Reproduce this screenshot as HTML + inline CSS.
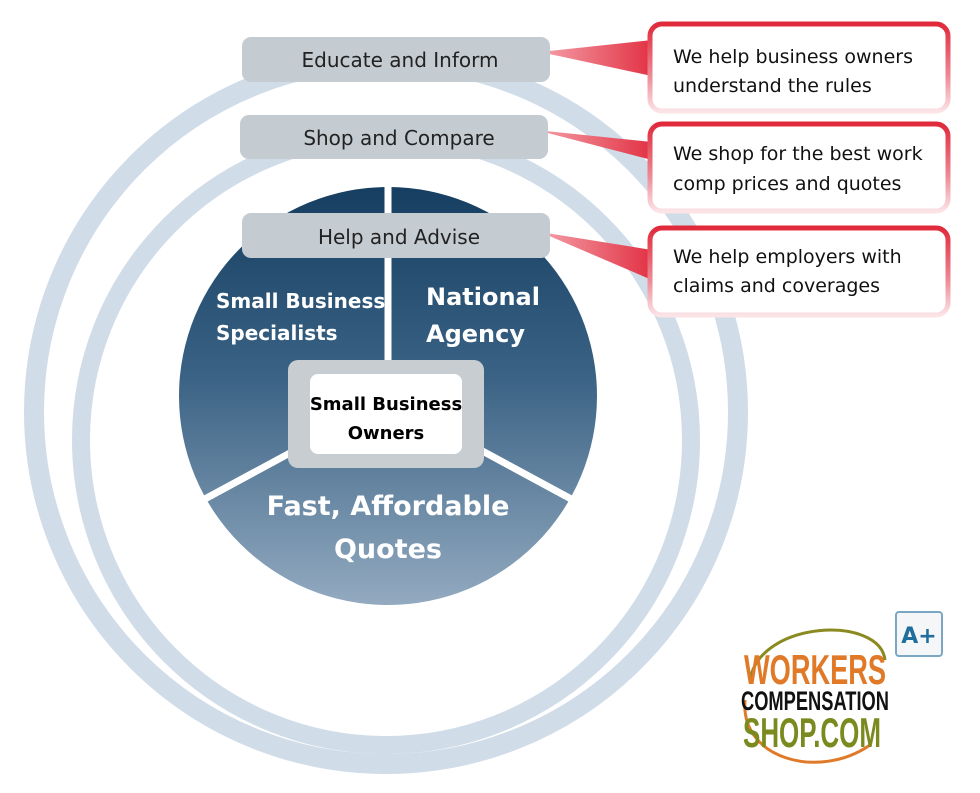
<!DOCTYPE html>
<html><head><meta charset="utf-8"><style>
body{margin:0;background:#fff;width:980px;height:789px;overflow:hidden;font-family:"DejaVu Sans","Liberation Sans",sans-serif}
</style></head><body>
<svg width="980" height="789" xmlns="http://www.w3.org/2000/svg">
<defs>
<linearGradient id="pie" x1="0" y1="0" x2="0" y2="1">
<stop offset="0" stop-color="#163e60"/><stop offset="0.45" stop-color="#3a6284"/><stop offset="1" stop-color="#93aac0"/></linearGradient>
<linearGradient id="red" x1="0" y1="0" x2="0" y2="1">
<stop offset="0" stop-color="#e02a3c"/><stop offset="0.6" stop-color="#ee8a95"/><stop offset="1" stop-color="#fbe3e6"/></linearGradient>
<linearGradient id="tri" x1="0" y1="0" x2="1" y2="0">
<stop offset="0" stop-color="#f4a0a9"/><stop offset="1" stop-color="#e23244"/></linearGradient>
</defs>
<circle cx="386" cy="412" r="352" fill="none" stroke="#d0dce8" stroke-width="20"/>
<circle cx="386" cy="440" r="305" fill="none" stroke="#d0dce8" stroke-width="18"/>
<circle cx="388" cy="396" r="209" fill="url(#pie)"/>
<line x1="388" y1="186" x2="388" y2="400" stroke="#fff" stroke-width="7"/>
<line x1="388" y1="400" x2="203" y2="500" stroke="#fff" stroke-width="7"/>
<line x1="388" y1="400" x2="573" y2="500" stroke="#fff" stroke-width="7"/>
<rect x="288" y="360" width="196" height="108" rx="10" fill="#c8cdd2"/>
<rect x="310" y="374" width="152" height="80" rx="8" fill="#fff"/>
<g font-weight="bold" fill="#000" font-size="18" text-anchor="middle">
<text x="386" y="410">Small Business</text><text x="386" y="439">Owners</text></g>
<g font-weight="bold" fill="#fff">
<text x="216" y="308" font-size="20">Small Business</text>
<text x="216" y="340" font-size="20">Specialists</text>
<text x="426" y="305" font-size="24">National</text>
<text x="426" y="342" font-size="24">Agency</text>
<text x="388" y="515" font-size="27" text-anchor="middle">Fast, Affordable</text>
<text x="388" y="558" font-size="27" text-anchor="middle">Quotes</text></g>
<polygon points="540,52 652,40 652,76" fill="url(#tri)"/>
<polygon points="536,130 652,142 652,160" fill="url(#tri)"/>
<polygon points="540,232 652,250 652,280" fill="url(#tri)"/>
<g fill="#c4cbd1">
<rect x="242" y="37" width="308" height="45" rx="9"/>
<rect x="240" y="115" width="308" height="44" rx="9"/>
<rect x="242" y="213" width="308" height="45" rx="9"/></g>
<g font-size="20" fill="#222" text-anchor="middle">
<text x="400" y="67">Educate and Inform</text>
<text x="399" y="145">Shop and Compare</text>
<text x="399" y="244">Help and Advise</text></g>
<g fill="#fff" stroke="url(#red)" stroke-width="5">
<rect x="650" y="24" width="298" height="87" rx="12"/>
<rect x="650" y="124" width="298" height="87" rx="12"/>
<rect x="650" y="228" width="298" height="87" rx="12"/></g>
<g font-size="19" fill="#111">
<text x="673" y="63">We help business owners</text><text x="673" y="92">understand the rules</text>
<text x="673" y="160">We shop for the best work</text><text x="673" y="190">comp prices and quotes</text>
<text x="673" y="263">We help employers with</text><text x="673" y="292">claims and coverages</text></g>
<rect x="896" y="612" width="46" height="44" rx="3" fill="#f4f6f8" stroke="#7aa8c4" stroke-width="2"/>
<text x="919" y="643" font-size="22" font-weight="bold" fill="#1f6e9c" text-anchor="middle">A+</text>
<path d="M750,680 C760,620 880,615 885,660" fill="none" stroke="#8a8a20" stroke-width="3"/>
<path d="M745,700 C740,760 820,780 870,745" fill="none" stroke="#e07a28" stroke-width="3"/>
<g font-family="'Liberation Sans Narrow','Liberation Sans',sans-serif" text-anchor="middle" font-weight="bold">
<text x="815" y="684" font-size="42" fill="#e07a28" textLength="142" lengthAdjust="spacingAndGlyphs">WORKERS</text>
<text x="815" y="710" font-size="27" fill="#111" textLength="148" lengthAdjust="spacingAndGlyphs">COMPENSATION</text>
<text x="812" y="747" font-size="42" fill="#7a8a1e" textLength="138" lengthAdjust="spacingAndGlyphs">SHOP.COM</text></g>
</svg>
</body></html>
